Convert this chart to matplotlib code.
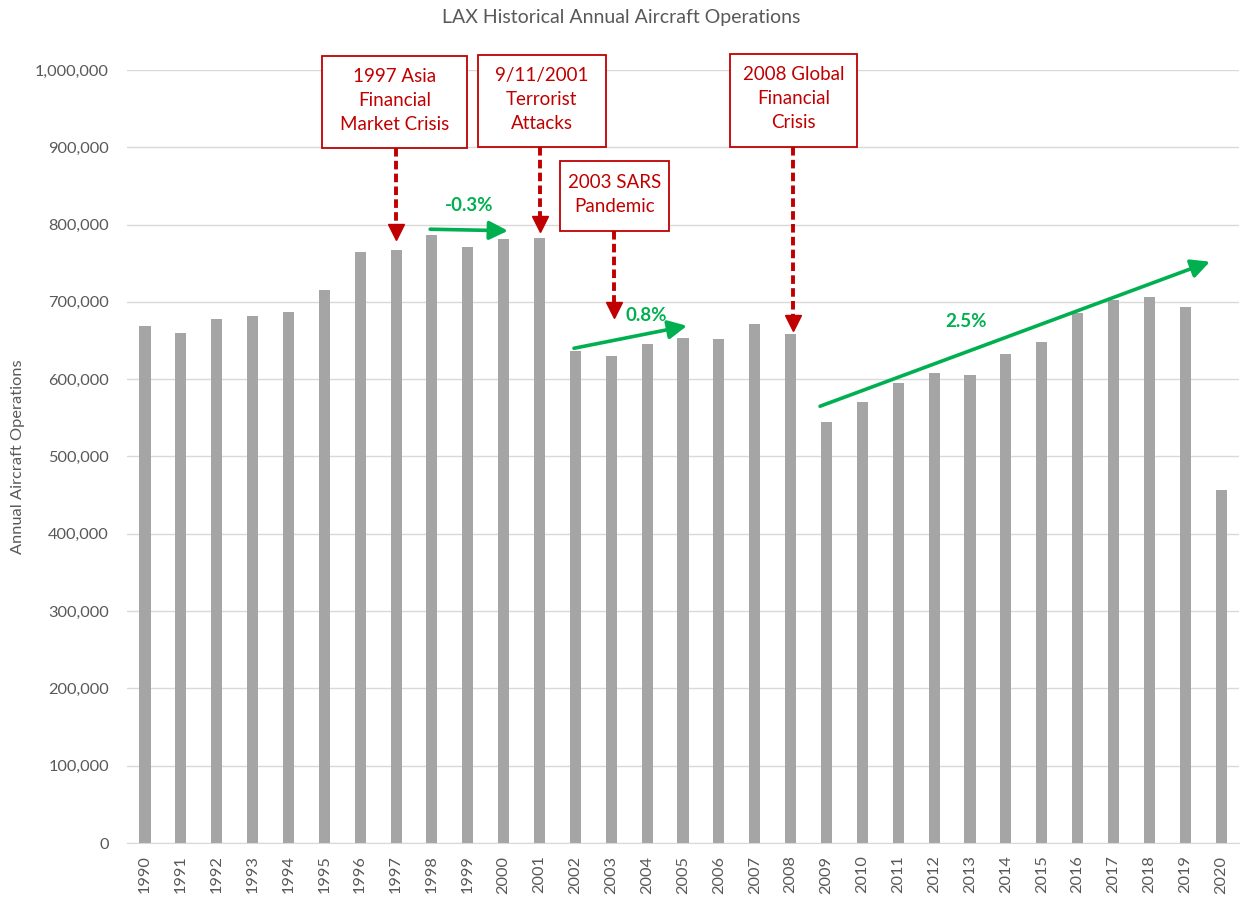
import matplotlib.pyplot as plt
from matplotlib.patches import Rectangle
from matplotlib.ticker import FuncFormatter

years = list(range(1990, 2021))
operations = [669000, 660000, 678000, 682000, 687000, 716000, 764000, 767000,
              786000, 771000, 781000, 783000, 637000, 630000, 646000, 653000,
              652000, 672000, 659000, 544000, 570000, 595000, 608000, 606000,
              633000, 648000, 685000, 702000, 706000, 694000, 457000]

# event boxes: text, box (x0, x1, y0, y1) in bar-index / value units, arrow x, arrow tip
events = [
    ('1997 Asia\nFinancial\nMarket Crisis', (4.93, 8.98, 899000, 1018000), 7.0, 783000),
    ('9/11/2001\nTerrorist\nAttacks', (9.28, 12.85, 900000, 1019000), 11.0, 794000),
    ('2003 SARS\nPandemic', (11.57, 14.61, 792000, 882000), 13.07, 683000),
    ('2008 Global\nFinancial\nCrisis', (16.31, 19.85, 900000, 1021000), 18.06, 666000),
]

# growth trend arrows: label, start, end, label position
trends = [
    ('-0.3%', (7.95, 794000), (10.12, 792000), (9.03, 825000)),
    ('0.8%', (11.96, 640000), (15.11, 669000), (13.97, 682000)),
    ('2.5%', (18.82, 565000), (29.69, 752000), (22.9, 675000)),
]

plt.rcParams['font.family'] = ['Lato', 'DejaVu Sans']
gray_text = '#595959'
red = '#C00000'
green = '#00B050'

fig = plt.figure(figsize=(12.43, 8.97), dpi=100)
ax = fig.add_axes([0.1022, 0.0602, 0.8946, 0.8618])

x = list(range(len(years)))
ax.bar(x, operations, width=0.31, color='#A5A5A5', zorder=2)

ax.set_xlim(-0.5, len(years) - 0.5)
ax.set_ylim(0, 1000000)
ax.set_yticks(range(0, 1000001, 100000))
ax.yaxis.set_major_formatter(FuncFormatter(lambda v, p: f'{int(v):,}'))
ax.set_xticks(x)
ax.set_xticklabels([str(y) for y in years], rotation=90)
ax.tick_params(axis='both', length=0, labelsize=11.8, colors=gray_text)
ax.tick_params(axis='y', pad=13)
ax.tick_params(axis='x', pad=9)
ax.grid(axis='y', color='#D9D9D9', linewidth=1, zorder=0)
for s in ['top', 'right', 'left']:
    ax.spines[s].set_visible(False)
ax.spines['bottom'].set_color('#D9D9D9')

fig.text(18 / 1243, 1 - 457 / 897, 'Annual Aircraft Operations', rotation=90,
         ha='center', va='center', fontsize=11.8, color=gray_text)
fig.text(0.5, 1 - 17 / 897, 'LAX Historical Annual Aircraft Operations',
         ha='center', va='center', fontsize=14, color=gray_text)

# event callouts
for text, (x0, x1, y0, y1), ax_x, tip in events:
    ax.add_patch(Rectangle((x0, y0), x1 - x0, y1 - y0, facecolor='white',
                           edgecolor=red, linewidth=1.3, clip_on=False, zorder=5))
    ax.text((x0 + x1) / 2, (y0 + y1) / 2 + 2000, text, ha='center', va='center',
            fontsize=13.5, color=red, linespacing=1.5, zorder=6, clip_on=False)
    ax.plot([ax_x, ax_x], [y0, tip + 14000], color=red, linewidth=2.8,
            linestyle=(0, (2.2, 1.1)), clip_on=False, zorder=4)
    ax.plot(ax_x, tip + 7000, marker='v', markersize=11, color=red,
            linestyle='none', clip_on=False, zorder=4)

# trend arrows
for label, start, end, lpos in trends:
    ax.annotate('', xy=end, xytext=start, annotation_clip=False,
                arrowprops=dict(arrowstyle='-|>,head_length=0.7,head_width=0.35',
                                color=green, lw=2.6, shrinkA=0, shrinkB=0,
                                mutation_scale=16), zorder=4)
    ax.text(lpos[0], lpos[1], label, ha='center', va='center', fontsize=13.5,
            fontweight='bold', color=green, zorder=4)

fig.savefig('out.png', dpi=100)
